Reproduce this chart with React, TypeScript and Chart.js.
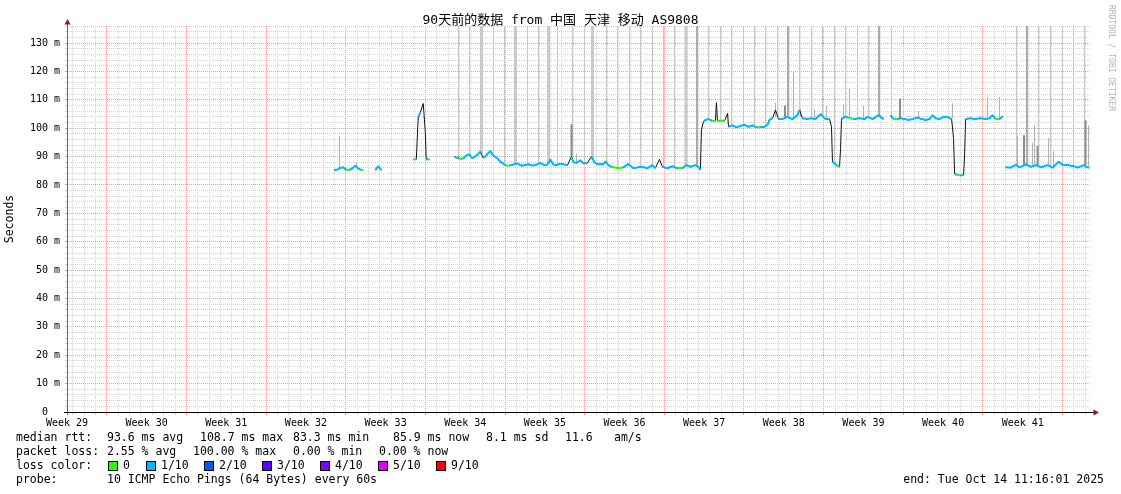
import React, { useEffect, useRef } from 'react';
import { Chart, registerables } from 'chart.js';

Chart.register(...registerables);

const W = 1121;
const H = 494;
const MONO = '"DejaVu Sans Mono", "Noto Sans CJK SC", monospace';

// ---------- text ----------
const TITLE = '90天前的数据 from 中国 天津 移动 AS9808';
const Y_TITLE = 'Seconds';
const WATERMARK = 'RRDTOOL / TOBI OETIKER';
const FIRST_WEEK = 29;
const WEEK_LABEL_DAYS = [0, 7, 14, 21, 28, 35, 42, 49, 56, 63, 70, 77, 84];
const DAYS_SPAN = 90;
const Y_MAX = 136;
const SMOKE_TOP = 140;

const RTT_HEAD = 'median rtt:';
const RTT_STATS = ['93.6 ms avg', '108.7 ms max', '83.3 ms min', '85.9 ms now', '8.1 ms sd', '11.6', 'am/s'];
const LOSS_HEAD = 'packet loss:';
const LOSS_STATS = ['2.55 % avg', '100.00 % max', '0.00 % min', '0.00 % now'];
const COLOR_HEAD = 'loss color:';
const LOSS_LABELS = ['0', '1/10', '2/10', '3/10', '4/10', '5/10', '9/10'];
const LOSS_COLORS = ['#26ff00', '#00b8ff', '#0059ff', '#5e00ff', '#7e00ff', '#dd00ff', '#ff0000'];
const PROBE_HEAD = 'probe:';
const PROBE = '10 ICMP Echo Pings (64 Bytes) every 60s';
const END_TIME = 'end: Tue Oct 14 11:16:01 2025';

// ---------- median rtt segments: [day, ms, lossBin] ----------
const SEG_W32: number[][] = [
  [23.48, 85.2, 0], [23.75, 85.4, 1], [24.01, 86.0, 1], [24.27, 86.2, 1], [24.54, 85.4, 0], [24.80, 85.3, 0],
  [25.07, 85.8, 1], [25.33, 86.8, 1], [25.59, 85.8, 1], [25.86, 85.3, 0], [26.03, 85.3, 0],
];
const SEG_W32B: number[][] = [[27.09, 85.2, 1], [27.36, 86.6, 1], [27.62, 85.2, 0]];
const SEG_W33: number[][] = [
  [30.43, 89.0, 0], [30.70, 89.0, 0], [30.87, 104.0, 1], [31.05, 105.5, 1], [31.31, 108.7, 1],
  [31.49, 98.8, 1], [31.57, 89.0, 1], [31.84, 89.0, 1],
];
const SEG_W34: number[][] = [
  [34.04, 89.9, 1], [34.30, 89.6, 1], [34.56, 89.2, 0], [34.83, 89.3, 0], [35.09, 90.4, 1], [35.36, 90.8, 1],
  [35.62, 89.4, 0], [35.97, 90.3, 1], [36.32, 91.7, 1], [36.59, 89.5, 0], [36.94, 90.8, 1], [37.20, 92.0, 1],
  [37.47, 90.3, 1], [37.82, 89.4, 1], [38.08, 88.2, 1], [38.26, 87.8, 1], [38.52, 86.9, 0], [38.87, 86.8, 0],
  [39.23, 87.2, 1], [39.58, 87.6, 1], [39.93, 86.8, 0], [40.28, 87.0, 1], [40.55, 87.3, 1], [40.90, 86.8, 0],
  [41.25, 87.1, 1], [41.60, 87.8, 1], [41.95, 87.0, 1], [42.22, 87.2, 1], [42.48, 89.0, 1], [42.74, 87.2, 1],
  [43.01, 87.0, 0], [43.36, 87.5, 1], [43.62, 87.3, 1], [43.98, 86.9, 0], [44.33, 90.0, 1], [44.50, 88.0, 1],
  [44.77, 87.8, 1], [45.12, 88.7, 1], [45.38, 87.6, 1], [45.73, 87.6, 1], [46.09, 90.0, 1], [46.35, 88.0, 1],
  [46.61, 87.3, 1], [46.88, 87.4, 1], [47.14, 87.3, 1], [47.32, 88.3, 1], [47.58, 87.0, 1], [47.85, 86.4, 0],
  [48.11, 86.2, 0], [48.46, 85.9, 0], [48.90, 86.2, 0], [49.34, 87.4, 1], [49.78, 85.9, 0], [50.22, 86.2, 1],
  [50.57, 86.4, 1], [51.01, 85.9, 0], [51.45, 87.0, 1], [51.71, 85.9, 0], [52.07, 89.0, 1], [52.33, 86.4, 1],
  [52.77, 85.9, 0], [53.21, 86.6, 1], [53.65, 85.9, 0], [54.09, 85.9, 0], [54.44, 87.0, 1], [54.79, 86.4, 1],
  [55.23, 87.0, 1], [55.50, 86.4, 1], [55.67, 85.3, 0], [55.76, 99.4, 1], [55.94, 102.3, 1], [56.11, 102.9, 1],
  [56.38, 103.2, 1], [56.73, 102.6, 0], [56.99, 102.6, 0], [57.08, 109.0, 1], [57.17, 102.6, 0], [57.44, 102.6, 0],
  [57.80, 102.6, 0], [58.06, 105.2, 1], [58.14, 100.5, 1], [58.50, 101.0, 1], [58.84, 100.3, 0], [59.19, 100.8, 1],
  [59.54, 101.2, 1], [59.89, 100.5, 0], [60.25, 101.0, 1], [60.60, 100.3, 0], [60.95, 100.3, 0], [61.30, 100.5, 1],
  [61.57, 101.2, 1], [61.74, 102.9, 1], [62.01, 103.5, 1], [62.27, 106.4, 1], [62.53, 103.2, 1], [62.88, 103.2, 0],
  [63.32, 104.0, 1], [63.76, 103.2, 1], [64.20, 104.6, 1], [64.38, 106.4, 1], [64.64, 103.5, 1], [65.08, 103.2, 1],
  [65.35, 103.5, 1], [65.79, 103.2, 1], [66.23, 105.0, 1], [66.67, 103.2, 1], [67.02, 103.2, 1], [67.19, 100.5, 1],
  [67.28, 88.2, 1], [67.46, 87.6, 1], [67.72, 86.7, 0], [67.90, 86.4, 0], [67.99, 92.9, 1], [68.07, 103.2, 1],
  [68.34, 104.0, 1], [68.69, 103.8, 0], [69.13, 103.2, 0], [69.66, 103.5, 1], [70.10, 103.2, 1], [70.36, 104.0, 1],
  [70.80, 103.2, 1], [71.33, 104.6, 1], [71.77, 103.2, 1],
];
const SEG_W40: number[][] = [
  [72.38, 104.6, 1], [72.65, 103.2, 0], [73.00, 103.2, 0], [73.26, 103.5, 1], [73.61, 103.2, 1], [73.97, 102.9, 0],
  [74.32, 103.2, 1], [74.76, 103.8, 1], [75.11, 103.2, 1], [75.46, 102.9, 0], [75.81, 103.2, 1], [76.08, 104.6, 1],
  [76.34, 103.5, 1], [76.69, 103.2, 1], [77.04, 104.0, 1], [77.40, 104.0, 1], [77.75, 103.2, 0], [77.92, 96.4, 1],
  [78.01, 84.1, 1], [78.28, 83.5, 0], [78.54, 83.3, 0], [78.80, 83.5, 1], [78.89, 90.5, 1], [78.98, 103.2, 1],
  [79.42, 103.5, 1], [79.77, 103.2, 0], [80.30, 103.5, 1], [80.74, 103.2, 0], [81.09, 103.5, 1], [81.35, 104.6, 1],
  [81.62, 103.2, 0], [81.97, 103.2, 0], [82.23, 104.2, 1],
];
const SEG_W41: number[][] = [
  [82.50, 86.2, 1], [82.94, 86.1, 0], [83.38, 87.1, 1], [83.73, 86.2, 1], [84.26, 87.2, 1], [84.70, 86.4, 1],
  [85.22, 87.0, 1], [85.58, 86.2, 0], [86.19, 87.0, 1], [86.63, 86.1, 0], [87.16, 88.2, 1], [87.51, 87.0, 1],
  [87.95, 87.0, 1], [88.39, 86.7, 1], [88.83, 86.1, 0], [89.36, 87.0, 1], [89.71, 86.1, 0], [89.88, 86.1, 0],
];
const MEDIAN_SEGMENTS = [SEG_W32, SEG_W32B, SEG_W33, SEG_W34, SEG_W40, SEG_W41];

// ---------- smoke (ping spread) : [day, low ms] to top, or [day, low, high] ----------
const SMOKE_THIN: number[][] = [
  [34.41, 89.5], [35.38, 90.5], [37.48, 90], [38.45, 87], [40.47, 87], [41.44, 87.5], [43.11, 87], [44.43, 88.5],
  [45.48, 87.5], [47.42, 87.5], [48.38, 86], [49.44, 87], [50.40, 86.2], [51.46, 87], [52.43, 86.3], [53.39, 86.3],
  [56.38, 103], [57.44, 102.6], [58.40, 100.8], [59.46, 101], [60.42, 100.5], [61.39, 100.6], [62.45, 104],
  [64.38, 106], [65.43, 103.3], [66.40, 104], [67.46, 88], [68.42, 104], [69.48, 103.3], [70.44, 103.8],
  [72.47, 104], [83.45, 87], [85.39, 86.8], [86.44, 86.5], [87.49, 87], [88.46, 86.8], [89.43, 86.7],
];
const SMOKE_WIDE: number[][] = [[36.43, 91], [39.42, 87], [42.32, 87.5], [46.18, 89], [54.40, 87]];
const SMOKE_DARK: number[][] = [[55.37, 86.5], [63.37, 103.5], [71.37, 104], [84.37, 87]];
const SMOKE_PARTIAL: number[][] = [
  [23.95, 86, 97.2], [25.44, 86.5, 88], [44.78, 88, 91], [62.27, 104, 109], [63.85, 104, 120], [64.47, 104, 107],
  [65.70, 103.5, 106.7], [66.75, 103.5, 107.8], [68.25, 104, 108.4], [68.78, 104, 114], [70.01, 103.5, 108],
  [74.84, 103.5, 106], [77.83, 103.5, 108.8], [80.91, 103.5, 111], [81.96, 103.5, 111], [83.54, 87, 97],
  [84.86, 86.5, 95], [85.04, 87, 101], [86.27, 87, 96.5], [86.71, 86.5, 92], [89.78, 86.5, 101],
];
const SMOKE_PARTIAL_DARK: number[][] = [
  [44.34, 90, 101.4], [63.11, 103.5, 108], [73.21, 103.5, 110.4], [84.11, 87, 97.5], [85.30, 87, 93.7], [89.52, 87, 102.8],
];

// ---------- derived structures ----------
const medianPts: { x: number; y: number | null }[] = [];
const medianLoss: number[] = [];
MEDIAN_SEGMENTS.forEach((seg, i) => {
  if (i > 0) {
    medianPts.push({ x: seg[0][0] - 0.05, y: null });
    medianLoss.push(0);
  }
  seg.forEach(([d, v, l]) => {
    medianPts.push({ x: d, y: v });
    medianLoss.push(l);
  });
});

function spikeData(rows: number[][]) {
  const out: { x: number; y: number | null }[] = [];
  rows.forEach((r) => {
    out.push({ x: r[0], y: r[1] });
    out.push({ x: r[0], y: r.length > 2 ? r[2] : SMOKE_TOP });
    out.push({ x: r[0] + 0.001, y: null });
  });
  return out;
}

const X_TICKS: number[] = (() => {
  const t: number[] = [];
  for (let d = 0.5; d < DAYS_SPAN; d += 1) t.push(d);
  WEEK_LABEL_DAYS.forEach((d) => t.push(d));
  return t.sort((a, b) => a - b);
})();

const MAJOR = 'rgba(255,0,0,0.4)';
const MINOR = '#d4d4d4';
const CLEAR = 'rgba(0,0,0,0)';

const isLabelDay = (v: number) => WEEK_LABEL_DAYS.indexOf(v) >= 0;
const isWeekLine = (v: number) => Math.abs((((v - 3.5) % 7) + 7) % 7) < 1e-6;

function spikeSet(rows: number[][], color: string, width: number) {
  return {
    type: 'line' as const,
    data: spikeData(rows),
    borderColor: color,
    borderWidth: width,
    pointRadius: 0,
    spanGaps: false,
    borderCapStyle: 'butt' as const,
    clip: 0,
    order: 5,
  };
}

const decor = {
  id: 'decor',
  afterDraw(chart: any) {
    const { ctx, chartArea: a } = chart;
    ctx.save();
    // axes
    ctx.lineWidth = 1;
    ctx.strokeStyle = '#666';
    ctx.beginPath();
    ctx.moveTo(a.left + 0.5, a.bottom + 3);
    ctx.lineTo(a.left + 0.5, a.top - 3);
    ctx.stroke();
    ctx.strokeStyle = '#000';
    ctx.beginPath();
    ctx.moveTo(a.left - 3, a.bottom + 0.5);
    ctx.lineTo(a.right + 3, a.bottom + 0.5);
    ctx.stroke();
    ctx.fillStyle = '#8b1a1a';
    ctx.beginPath();
    ctx.moveTo(a.left + 0.5, a.top - 7);
    ctx.lineTo(a.left - 2.5, a.top - 1.5);
    ctx.lineTo(a.left + 3.5, a.top - 1.5);
    ctx.closePath();
    ctx.fill();
    ctx.beginPath();
    ctx.moveTo(a.right + 8, a.bottom + 0.5);
    ctx.lineTo(a.right + 2.5, a.bottom - 2.5);
    ctx.lineTo(a.right + 2.5, a.bottom + 3.5);
    ctx.closePath();
    ctx.fill();

    // title
    ctx.fillStyle = '#000';
    ctx.textBaseline = 'middle';
    ctx.textAlign = 'center';
    ctx.font = `13px ${MONO}`;
    ctx.fillText(TITLE, W / 2, 21);

    // y title
    ctx.save();
    ctx.translate(10, (a.top + a.bottom) / 2);
    ctx.rotate(-Math.PI / 2);
    ctx.font = `11.5px ${MONO}`;
    ctx.fillText(Y_TITLE, 0, 0);
    ctx.restore();

    // watermark
    ctx.save();
    ctx.translate(1111, 58);
    ctx.rotate(Math.PI / 2);
    ctx.font = `8px ${MONO}`;
    ctx.fillStyle = '#b4b4b4';
    ctx.fillText(WATERMARK, 0, 0);
    ctx.restore();

    // legend
    ctx.textAlign = 'left';
    ctx.font = `11.5px ${MONO}`;
    ctx.fillStyle = '#000';
    const L = 16;
    const rows = [438, 452, 466, 480];
    ctx.fillText(RTT_HEAD, L, rows[0]);
    const rttX = [107, 200, 293, 393, 486, 565, 614];
    RTT_STATS.forEach((s, i) => ctx.fillText(s, rttX[i], rows[0]));
    ctx.fillText(LOSS_HEAD, L, rows[1]);
    const lossX = [107, 193, 293, 379];
    LOSS_STATS.forEach((s, i) => ctx.fillText(s, lossX[i], rows[1]));
    ctx.fillText(COLOR_HEAD, L, rows[2]);
    const boxX = [108, 146, 204, 262, 320, 378, 436];
    LOSS_LABELS.forEach((lab, i) => {
      ctx.fillStyle = LOSS_COLORS[i];
      ctx.fillRect(boxX[i] + 0.5, rows[2] - 4.5, 9, 9);
      ctx.strokeStyle = '#000';
      ctx.strokeRect(boxX[i] + 0.5, rows[2] - 4.5, 9, 9);
      ctx.fillStyle = '#000';
      ctx.fillText(lab, boxX[i] + 15, rows[2]);
    });
    ctx.fillText(PROBE_HEAD, L, rows[3]);
    ctx.fillText(PROBE, 107, rows[3]);
    ctx.textAlign = 'right';
    ctx.fillText(END_TIME, 1104, rows[3]);
    ctx.restore();
  },
};

export default function App() {
  const ref = useRef<HTMLCanvasElement | null>(null);

  useEffect(() => {
    const canvas = ref.current;
    if (!canvas) return;

    const segColor = (c: any) => {
      const a = c.p0.parsed.y;
      const b = c.p1.parsed.y;
      if (Math.abs(a - b) > 2.2) return CLEAR;
      const bin = Math.max(medianLoss[c.p0DataIndex] || 0, medianLoss[c.p1DataIndex] || 0);
      return LOSS_COLORS[bin];
    };

    const chart = new Chart(canvas, {
      type: 'line',
      data: {
        datasets: [
          {
            type: 'line',
            data: medianPts,
            borderColor: LOSS_COLORS[1],
            borderWidth: 2,
            pointRadius: 0,
            spanGaps: false,
            borderJoinStyle: 'bevel',
            segment: { borderColor: segColor },
            order: 0,
          } as any,
          {
            type: 'line',
            data: medianPts,
            borderColor: '#111111',
            borderWidth: 1,
            pointRadius: 0,
            spanGaps: false,
            borderJoinStyle: 'bevel',
            order: 1,
          } as any,
          spikeSet(SMOKE_PARTIAL_DARK, '#8c8c8c', 2),
          spikeSet(SMOKE_PARTIAL, '#b0b0b0', 1),
          spikeSet(SMOKE_DARK, '#ababab', 2),
          spikeSet(SMOKE_WIDE, '#c9c9c9', 3),
          spikeSet(SMOKE_THIN, '#c6c6c6', 1),
        ] as any,
      },
      options: {
        responsive: false,
        animation: false,
        devicePixelRatio: 1,
        events: [],
        layout: { padding: { top: 26, right: 30, left: 0, bottom: 0 } },
        plugins: {
          legend: { display: false },
          tooltip: { enabled: false },
          title: { display: false },
        },
        scales: {
          x: {
            type: 'linear',
            min: 0,
            max: DAYS_SPAN,
            offset: false,
            afterBuildTicks: (s: any) => {
              s.ticks = X_TICKS.map((v) => ({ value: v }));
            },
            afterFit: (s: any) => {
              s.height = H - 412;
            },
            grid: {
              offset: false,
              lineWidth: 1,
              drawTicks: true,
              tickLength: 3,
              color: (c: any) => {
                const v = c.tick ? c.tick.value : 0;
                if (isLabelDay(v)) return CLEAR;
                return isWeekLine(v) ? MAJOR : MINOR;
              },
            },
            border: { display: false, dash: [1, 1] },
            ticks: {
              autoSkip: false,
              maxRotation: 0,
              minRotation: 0,
              padding: 2,
              color: '#000',
              font: { family: MONO, size: 10 },
              callback: (v: any) => (isLabelDay(Number(v)) ? `Week ${FIRST_WEEK + Number(v) / 7}` : ''),
            },
          },
          y: {
            type: 'linear',
            min: 0,
            max: Y_MAX,
            stacked: false,
            afterFit: (s: any) => {
              s.width = 67;
            },
            grid: {
              lineWidth: 1,
              drawTicks: true,
              tickLength: 2,
              color: (c: any) => {
                const v = c.tick ? c.tick.value : 0;
                if (v === 0) return CLEAR;
                return v % 10 === 0 ? MAJOR : MINOR;
              },
            },
            border: { display: false, dash: [1, 1] },
            ticks: {
              stepSize: 2,
              autoSkip: false,
              padding: 5,
              color: '#000',
              font: { family: MONO, size: 10 },
              callback: (v: any) => {
                const n = Number(v);
                if (n % 10 !== 0) return '';
                return n === 0 ? '0  ' : `${n} m`;
              },
            },
          },
        },
      } as any,
      plugins: [decor],
    });

    return () => chart.destroy();
  }, []);

  return (
    <div style={{ position: 'absolute', left: 0, top: 0, width: W, height: H, background: '#fff' }}>
      <canvas ref={ref} width={W} height={H} style={{ display: 'block', width: W, height: H }} />
    </div>
  );
}
